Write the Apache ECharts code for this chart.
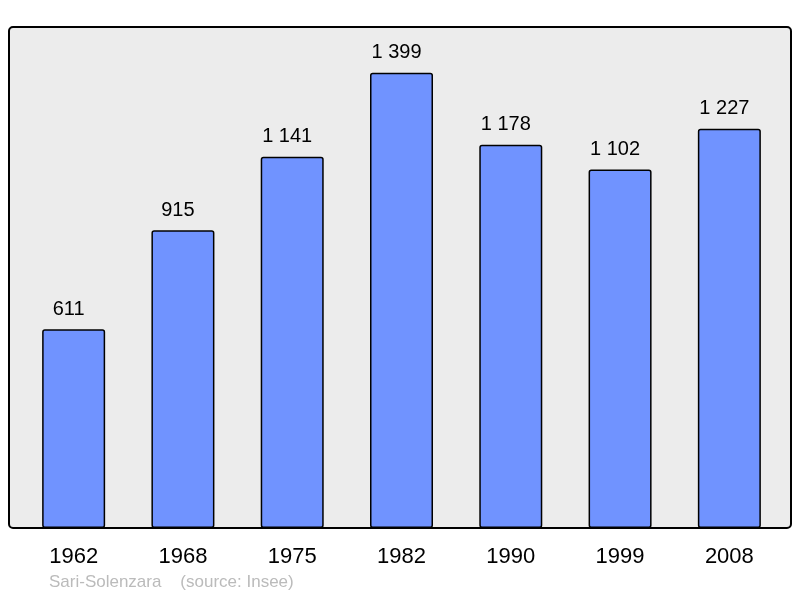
<!DOCTYPE html>
<html>
<head>
<meta charset="utf-8">
<script src="https://cdn.jsdelivr.net/npm/echarts@6/dist/echarts.min.js"></script>
<style>
  html, body { margin: 0; padding: 0; background: #fff; }
  #chart { width: 800px; height: 598px; }
</style>
</head>
<body>
<div id="chart"></div>
<script>
const years = ['1962', '1968', '1975', '1982', '1990', '1999', '2008'];
const population = [611, 915, 1141, 1399, 1178, 1102, 1227];
const caption = 'Sari-Solenzara    (source: Insee)';

const font = '"Liberation Sans", Arial, sans-serif';
const fmt = v => String(v).replace(/\B(?=(\d{3})+(?!\d))/g, ' ');

const chart = echarts.init(document.getElementById('chart'));
chart.setOption({
  animation: false,
  graphic: [
    {
      type: 'rect',
      z: 0,
      shape: { x: 9, y: 27, width: 782, height: 501, r: 4 },
      style: { fill: '#ececec', stroke: '#000', lineWidth: 2 }
    },
    {
      type: 'text',
      left: 49,
      top: 574,
      style: { text: caption, fill: '#bbbbbb', font: '17px ' + font }
    }
  ],
  grid: { left: 19, right: 16, top: 27, bottom: 70 },
  xAxis: {
    type: 'category',
    data: years,
    axisLine: { show: false },
    axisTick: { show: false },
    axisLabel: { color: '#000', fontSize: 22, fontFamily: font, margin: 18 }
  },
  yAxis: {
    type: 'value',
    min: 0,
    max: 1540,
    show: false,
    splitLine: { show: false }
  },
  series: [{
    type: 'bar',
    data: population,
    barWidth: 63,
    itemStyle: { color: '#7093ff', borderColor: '#000', borderWidth: 1.5, borderRadius: 2 },
    label: {
      show: true,
      position: 'top',
      distance: 10,
      offset: [-5, 0],
      color: '#000',
      fontSize: 20,
      fontFamily: font,
      formatter: p => fmt(p.value)
    }
  }]
});
</script>
</body>
</html>
